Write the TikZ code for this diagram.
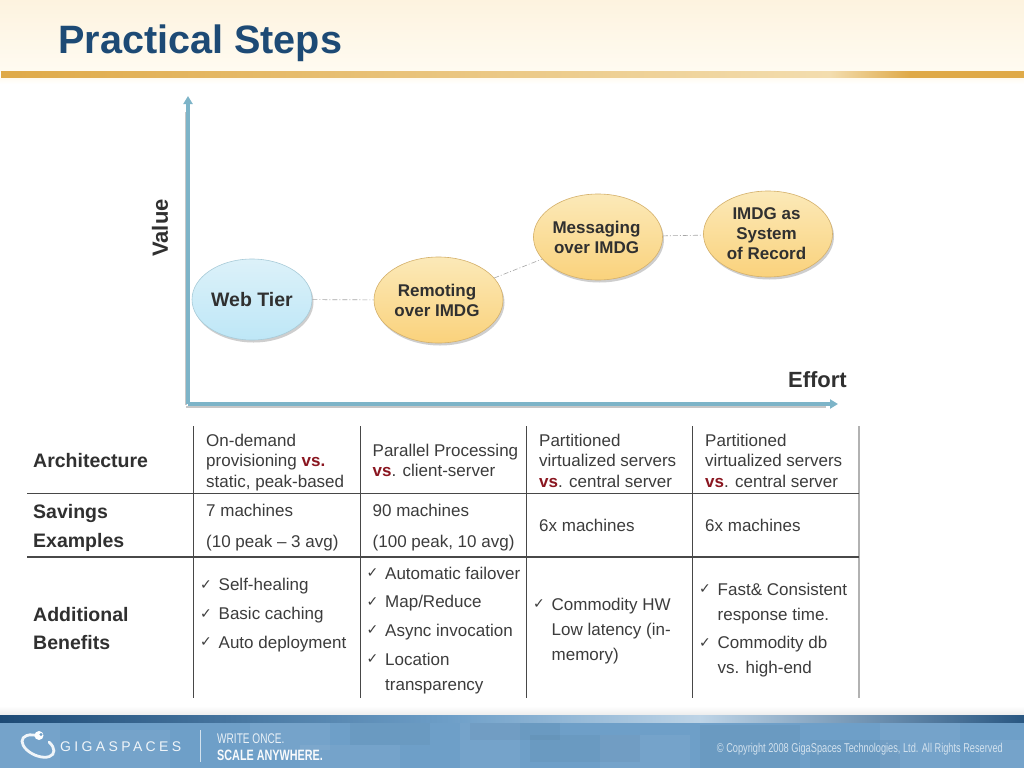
\documentclass[tikz,border=0pt]{standalone}
\usepackage{fontspec}
\setmainfont{Liberation Sans}
\newfontfamily\chkfont{DejaVu Sans}
\newfontfamily\narrowfont[FakeStretch=0.72]{Liberation Sans}
\usetikzlibrary{shapes.geometric,shadows,arrows.meta}
\definecolor{titleblue}{HTML}{1D4A75}
\definecolor{axisblue}{HTML}{7DB4C8}
\definecolor{ink}{HTML}{3C3C3C}
\definecolor{headink}{HTML}{303030}
\definecolor{vsred}{HTML}{8A1620}
\definecolor{rulegrey}{HTML}{484848}
\definecolor{foot}{HTML}{6E9FC8}
\definecolor{creamtop}{HTML}{FDF3DF}
\definecolor{creambot}{HTML}{FFFBF1}
\definecolor{goldline}{HTML}{DFAA48}
\definecolor{goldpale}{HTML}{F3DDAE}
\definecolor{goldtop}{HTML}{FBE9B8}
\definecolor{goldmid}{HTML}{FFF5D2}
\definecolor{goldbot}{HTML}{FAD27C}
\definecolor{goldedge}{HTML}{D4B06A}
\definecolor{skytop}{HTML}{DCF1F9}
\definecolor{skymid}{HTML}{EBF8FD}
\definecolor{skybot}{HTML}{BEE7F7}
\definecolor{skyedge}{HTML}{A8CBD8}
\newcommand{\fs}[2]{\fontsize{#1pt}{#2pt}\selectfont}
\newcommand{\vsw}[1]{\textcolor{vsred}{\textbf{#1}}}
\newcommand{\ck}{\makebox[18.5pt][l]{\raisebox{1.5pt}{\chkfont\fontsize{14pt}{14pt}\selectfont ✓}}}
\newcommand{\ind}{\hspace*{18.5pt}}
\tikzset{
  x=1pt,y=-1pt,
  cell/.style={anchor=north west,inner sep=0pt,align=left,text=ink},
  head/.style={anchor=north west,inner sep=0pt,align=left,text=headink,font=\bfseries\fs{19.5}{28.7}},
  bubble/.style={ellipse,inner sep=0pt,minimum width=129pt,minimum height=86pt,align=center,
    text=headink,font=\bfseries\fs{17}{20},draw=#1,line width=.6pt,
    drop shadow={shadow xshift=1.5pt,shadow yshift=-2.5pt,opacity=.35,fill=black!55}},
  gold/.style={bubble=goldedge,top color=goldtop,middle color=goldmid,bottom color=goldbot},
  sky/.style={bubble=skyedge,top color=skytop,middle color=skymid,bottom color=skybot},
  link/.style={draw=black!35,line width=.6pt,dash pattern=on 5pt off 2pt on 1pt off 2pt},
  axis/.style={draw=axisblue,line width=3.2pt,-{Triangle[length=8pt,width=9pt]}},
  axshadow/.style={draw=black!22,line width=2pt},
  vrule/.style={draw=rulegrey,line width=1.2pt},
  hrule/.style={draw=rulegrey,line width=1.2pt},
  patch/.style={fill=white,fill opacity=.05,draw=none},
  darkpatch/.style={fill=black,fill opacity=.03,draw=none},
}
\begin{document}
\begin{tikzpicture}
\useasboundingbox (0,0) rectangle (1024,768);
\fill[white] (0,0) rectangle (1024,768);
% header band
\fill[top color=creamtop,bottom color=creambot] (0,0) rectangle (1024,71);
\fill[left color=goldline,right color=goldpale] (1,71) rectangle (830,78);
\fill[left color=goldpale,right color=goldline] (830,71) rectangle (910,78);
\fill[goldline] (910,71) rectangle (1024,78);
\fill[top color=creambot,bottom color=white] (0,78) rectangle (1024,84);
\node[anchor=base west,inner sep=0pt,text=titleblue,font=\bfseries\fs{39.6}{42}] (title) at (58,53) {Practical Steps};
% axes
\coordinate (origin) at (188,404);
\coordinate (ytip) at (188,96);
\coordinate (xtip) at (838,404);
\draw[axshadow] (186,405) -- (186,112);
\draw[axshadow] (186,406.5) -- (826,406.5);
\draw[axis] (origin) -- (ytip);
\draw[axis] (origin) -- (xtip);
\node[rotate=90,inner sep=0pt,text=headink,font=\bfseries\fs{22}{24}] (value) at (160,228) {Value};
\node[anchor=base east,inner sep=0pt,text=headink,font=\bfseries\fs{22}{24}] (effort) at (847,387) {Effort};
% bubbles
\node[sky,minimum width=120pt,minimum height=81pt,font=\bfseries\fs{19.5}{20}] (web) at (252,299.5) {Web Tier};
\node[gold] (rem) at (438.5,300) {\hspace*{-3pt}Remoting\\\hspace*{-3pt}over IMDG};
\node[gold] (msg) at (598,237) {\hspace*{-3pt}Messaging\\\hspace*{-3pt}over IMDG};
\node[gold] (sor) at (768,234) {\hspace*{-3pt}IMDG as\\\hspace*{-3pt}System\\\hspace*{-3pt}of Record};
\draw[link] (web) -- (rem);
\draw[link] (rem) -- (msg);
\draw[link] (msg) -- (sor);
% table rules
\foreach \n/\x in {a/193.5,b/360.3,c/526.3,d/692.3}{
  \coordinate (\n t) at (\x,426); \coordinate (\n b) at (\x,698);
  \draw[vrule] (\n t) -- (\n b);
}
\coordinate (et) at (859,426); \coordinate (eb) at (859,698);
\draw[draw=black!30,line width=1.3pt] (et) -- (eb);
\coordinate (r1l) at (27,493.5); \coordinate (r1r) at (859,493.5);
\coordinate (r2l) at (27,557); \coordinate (r2r) at (859,557);
\draw[hrule] (r1l) -- (r1r);
\draw[hrule] (r2l) -- (r2r);
% row headers
\node[head] (h1) at (33,446.9) {\strut Architecture};
\node[head] (h2) at (33,498) {\strut Savings\\[.8pt]Examples};
\node[head] (h3) at (33,600.8) {\strut Additional\\Benefits};
% row 1
\tikzset{every node/.append style={font=\fs{17}{20.5}}}
\node[cell] (c11) at (206,431.7) {\strut On-demand\\provisioning \vsw{vs.}\\static, peak-based};
\node[cell] (c12) at (372.5,441.7) {\strut Parallel Processing\\\vsw{vs}. client-server};
\node[cell] (c13) at (539,431.7) {\strut Partitioned\\virtualized servers\\\vsw{vs}. central server};
\node[cell] (c14) at (705,431.7) {\strut Partitioned\\virtualized servers\\\vsw{vs}. central server};
% row 2
\node[cell,font=\fs{17}{31}] (c21) at (206,494.8) {\strut 7 machines\\(10 peak – 3 avg)};
\node[cell,font=\fs{17}{31}] (c22) at (372.5,494.8) {\strut 90 machines\\(100 peak, 10 avg)};
\node[cell] (c23) at (539,517.2) {\strut 6x machines};
\node[cell] (c24) at (705,517.2) {\strut 6x machines};
% row 3
\node[cell,font=\fs{17}{28.7}] (c31) at (200,570.6) {\strut\ck Self-healing\\\ck Basic caching\\\ck Auto deployment};
\node[cell,font=\fs{17}{25}] (c32) at (366.5,561.5) {\strut\ck Automatic failover\\[3.6pt]\ck Map/Reduce\\[3.6pt]\ck Async invocation\\[3.6pt]\ck Location\\\ind transparency};
\node[cell,font=\fs{17}{25}] (c33) at (533,592.5) {\strut\ck Commodity HW\\\ind Low latency (in-\\\ind memory)};
\node[cell,font=\fs{17}{25}] (c34) at (699,577.5) {\strut\ck Fast\& Consistent\\\ind response time.\\[3.6pt]\ck Commodity db\\\ind vs. high-end};
\tikzset{every node/.append style={font=}}
% footer
\fill[top color=white,bottom color=black!7] (0,706) rectangle (1024,715);
\fill[foot] (0,722) rectangle (1024,768);
\foreach \a/\b/\c/\d in {0/722/60/768,90/730/170/768,250/722/330/750,300/745/400/768,460/722/520/768,600/735/690/768,880/722/960/768,980/740/1024/768}
  \fill[patch] (\a,\b) rectangle (\c,\d);
\foreach \a/\b/\c/\d in {350/722/430/745,470/722/560/740,530/735/640/762,700/725/800/768,810/740/900/768}
  \fill[darkpatch] (\a,\b) rectangle (\c,\d);
\fill[left color=titleblue,right color=foot] (0,715) rectangle (450,722);
\fill[left color=foot,right color=foot!45!white] (450,715) rectangle (700,722);
\fill[left color=foot!45!white,right color=titleblue!85!foot] (700,715) rectangle (1024,722);
% logo
\draw[white!90!foot,line width=2.8pt,line cap=round,rotate around={-25:(38,746)}] (46.5,737.8) arc[start angle=-60,end angle=265,x radius=17,y radius=9.5];
\fill[white] (39,735.5) circle (4.5pt);
\fill[foot] (41,734.5) circle (1.6pt);
\node[anchor=base west,inner sep=0pt,text=white!90!foot,font=\fs{14}{15}] (logo) at (60,751) {\addfontfeatures{LetterSpace=24}GIGASPACES};
\coordinate (divt) at (200,730); \coordinate (divb) at (200,762);
\draw[white!70!foot,line width=.9pt] (divt) -- (divb);
\node[anchor=base west,inner sep=0pt,text=white!85!foot,font=\narrowfont\fs{14}{15}] (w1) at (217,743) {WRITE ONCE.};
\node[anchor=base west,inner sep=0pt,text=white!95!foot,font=\narrowfont\bfseries\fs{15}{16}] (w2) at (217,760) {SCALE ANYWHERE.};
\node[anchor=base east,inner sep=0pt,text=white!70!foot,font=\narrowfont\fs{12.8}{14}] (copy) at (1003,752) {© Copyright 2008 GigaSpaces Technologies, Ltd. All Rights Reserved};
\end{tikzpicture}
\end{document}
